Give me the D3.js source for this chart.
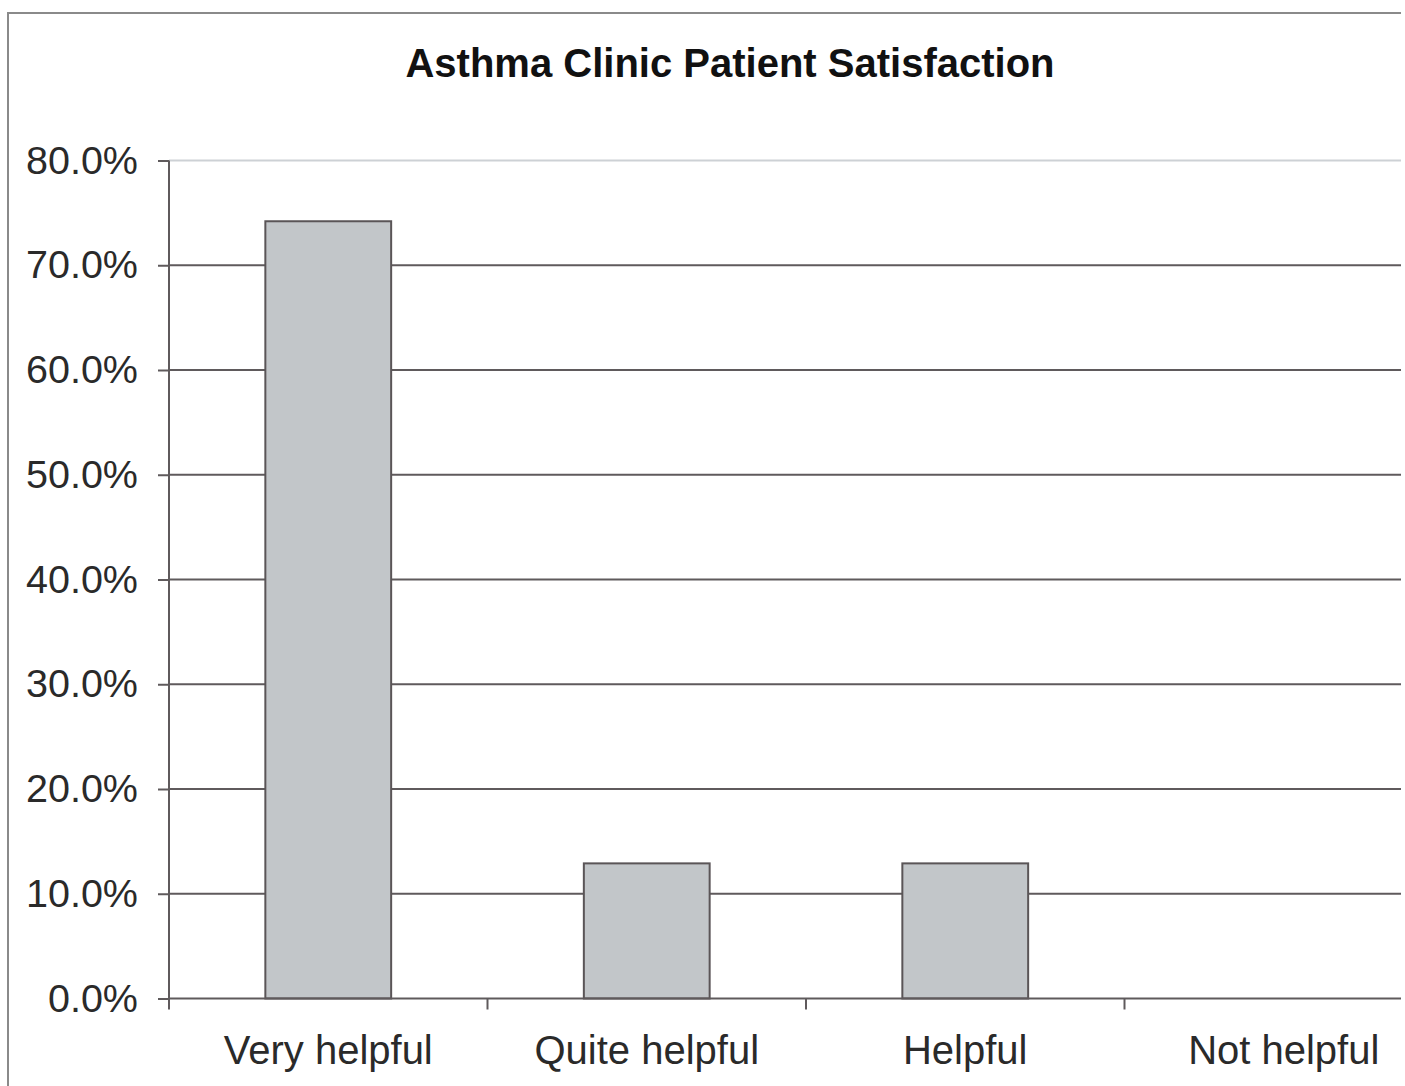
<!DOCTYPE html>
<html>
<head>
<meta charset="utf-8">
<script src="https://cdnjs.cloudflare.com/ajax/libs/d3/7.8.5/d3.min.js"></script>
<style>
  html, body { margin: 0; padding: 0; background: #ffffff; }
  svg { display: block; }
  text { font-family: "Liberation Sans", Arial, sans-serif; }
</style>
</head>
<body>
<div id="chart"></div>
<script>
// Survey responses: share of patients per rating
const categories = ["Very helpful", "Quite helpful", "Helpful", "Not helpful"];
const shares = [0.742, 0.129, 0.129, 0.0];
const yTicks = [0, 0.1, 0.2, 0.3, 0.4, 0.5, 0.6, 0.7, 0.8];
const chartTitle = "Asthma Clinic Patient Satisfaction";

const W = 1401, H = 1086;
const plot = { left: 169, right: 1443, top: 160.5, bottom: 998.5 };

const svg = d3.select("#chart").append("svg")
  .attr("width", W).attr("height", H);

// outer chart frame
svg.append("rect")
  .attr("x", 8).attr("y", 13)
  .attr("width", 1480).attr("height", 1200)
  .attr("fill", "#ffffff")
  .attr("stroke", "#8a8a8a").attr("stroke-width", 2);

svg.append("text")
  .attr("x", 730).attr("y", 77)
  .attr("text-anchor", "middle")
  .attr("font-size", 40).attr("font-weight", "bold")
  .attr("fill", "#111")
  .text(chartTitle);

const x = d3.scaleBand().domain(categories).range([plot.left, plot.right]);
const y = d3.scaleLinear().domain([0, 0.8]).range([plot.bottom, plot.top]);
const barWidth = x.bandwidth() * 0.395;

// horizontal gridlines
svg.append("g").selectAll("line").data(yTicks.filter(t => t > 0)).join("line")
  .attr("x1", plot.left).attr("x2", plot.right)
  .attr("y1", d => y(d)).attr("y2", d => y(d))
  .attr("stroke", d => d === 0.8 ? "#cdd1d5" : "#5f5a5c")
  .attr("stroke-width", 2);

// bars
svg.append("g").selectAll("rect")
  .data(categories.map((c, i) => ({ c, v: shares[i] })).filter(d => d.v > 0))
  .join("rect")
  .attr("x", d => x(d.c) + (x.bandwidth() - barWidth) / 2)
  .attr("width", barWidth)
  .attr("y", d => y(d.v))
  .attr("height", d => y(0) - y(d.v))
  .attr("fill", "#c2c6c9")
  .attr("stroke", "#5a5557").attr("stroke-width", 2);

// y axis
const yAxis = d3.axisLeft(y).tickValues(yTicks)
  .tickFormat(d3.format(".1%")).tickSize(11).tickPadding(20);
const gy = svg.append("g").attr("transform", `translate(${plot.left},0)`).call(yAxis);
gy.select(".domain").attr("stroke", "#5f5a5c").attr("stroke-width", 2)
  .attr("d", `M0,${plot.top}V${plot.bottom}`);
gy.selectAll(".tick line").attr("stroke", "#5f5a5c").attr("stroke-width", 2);
gy.selectAll(".tick text").attr("font-size", 39.5).attr("fill", "#2a2a2a")
  .attr("font-family", "'Liberation Sans', Arial, sans-serif");

// x axis with ticks at category boundaries
const gx = svg.append("g").attr("transform", `translate(0,${plot.bottom})`);
gx.append("line").attr("x1", plot.left).attr("x2", plot.right)
  .attr("stroke", "#5f5a5c").attr("stroke-width", 2);
gx.selectAll("line.tk").data(categories).join("line").attr("class", "tk")
  .attr("x1", d => x(d)).attr("x2", d => x(d))
  .attr("y1", 0).attr("y2", 11)
  .attr("stroke", "#5f5a5c").attr("stroke-width", 2);
gx.selectAll("text").data(categories).join("text")
  .attr("x", d => x(d) + x.bandwidth() / 2)
  .attr("y", 65)
  .attr("text-anchor", "middle")
  .attr("font-size", 40).attr("fill", "#2a2a2a")
  .text(d => d);
</script>
</body>
</html>
